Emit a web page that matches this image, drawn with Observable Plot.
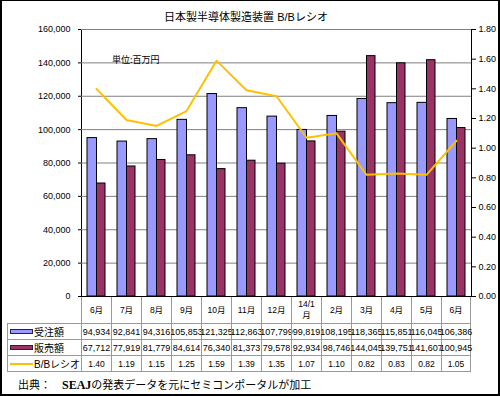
<!DOCTYPE html>
<html><head><meta charset="utf-8">
<script src="https://cdn.jsdelivr.net/npm/d3@7"></script>
<script src="https://cdn.jsdelivr.net/npm/@observablehq/plot@0.6"></script>
<style>
html,body{margin:0;padding:0;background:#fff;}
#wrap{position:relative;width:500px;height:396px;overflow:hidden;background:#fff;font-family:"Liberation Sans","Noto Sans CJK JP",sans-serif;color:#000;}
#frame{position:absolute;left:0;top:0;width:500px;height:396px;box-sizing:border-box;border-style:solid;border-color:#000;border-width:1px 2px 2px 2px;pointer-events:none;z-index:10;}
.abs{position:absolute;white-space:nowrap;}
.cell{position:absolute;box-sizing:border-box;border-left:1px solid #999;border-top:1px solid #999;display:flex;align-items:center;justify-content:center;white-space:nowrap;text-align:center;overflow:visible;}
#chart{position:absolute;left:0;top:0;z-index:2;}
</style></head>
<body><div id="wrap"><div id="frame"></div></div>
<script>
const title = "日本製半導体製造装置 B/Bレシオ";
const unitLabel = "単位:百万円";
const months = ["6月","7月","8月","9月","10月","11月","12月","14/1月","2月","3月","4月","5月","6月"];
const seriesNames = ["受注額","販売額","B/Bレシオ"];
const orders = [94934, 92841, 94316, 105853, 121325, 112863, 107799, 99819, 108195, 118365, 115851, 116045, 106386];
const sales  = [67712, 77919, 81779, 84614, 76340, 81373, 79578, 92934, 98746, 144045, 139751, 141607, 100945];
const bbRatio = [1.40, 1.19, 1.15, 1.25, 1.59, 1.39, 1.35, 1.07, 1.10, 0.82, 0.83, 0.82, 1.05];
const leftTicks = [0, 20000, 40000, 60000, 80000, 100000, 120000, 140000, 160000];
const rightTicks = [0, 0.2, 0.4, 0.6, 0.8, 1.0, 1.2, 1.4, 1.6, 1.8];
const captionLead = "出典：　";
const captionSource = "SEAJ";
const captionRest = "の発表データを元にセミコンポータルが加工";

const colors = {orders: "#9999FF", sales: "#993366", ratio: "#FFC000"};
const k = leftTicks[leftTicks.length - 1] / rightTicks[rightTicks.length - 1];
const idx = d3.range(months.length);
const fmt = d3.format(",");

const chart = Plot.plot({
  width: 500, height: 297,
  marginTop: 29, marginBottom: 1, marginLeft: 81, marginRight: 29,
  style: {fontFamily: '"Liberation Sans", Arial, sans-serif', fontSize: "9px", color: "#000", background: "transparent", overflow: "visible"},
  x: {type: "band", domain: idx, padding: 0, axis: null},
  y: {domain: [leftTicks[0], leftTicks[leftTicks.length - 1]]},
  marks: [
    Plot.frame({stroke: "#000"}),
    Plot.ruleY(leftTicks.slice(1), {stroke: "#808080", strokeOpacity: 1}),
    Plot.barY(orders, {x: (d, i) => i, y: d => d, fill: colors.orders, stroke: "#000", strokeWidth: 1, insetLeft: 6, insetRight: 14.5}),
    Plot.barY(sales, {x: (d, i) => i, y: d => d, fill: colors.sales, stroke: "#000", strokeWidth: 1, insetLeft: 15.5, insetRight: 6}),
    Plot.lineY(bbRatio, {x: (d, i) => i, y: d => d * k, stroke: colors.ratio, strokeWidth: 2}),
    Plot.axisY(leftTicks, {anchor: "left", tickSize: 3, tickPadding: 8, tickFormat: fmt, label: null}),
    Plot.axisY(rightTicks.map(r => r * k), {anchor: "right", tickSize: 4, tickPadding: 3, tickFormat: d => (d / k).toFixed(2), label: null})
  ]
});
chart.id = "chart";
const wrap = document.getElementById("wrap");
wrap.appendChild(chart);

function add(cls, styles, html) {
  const el = document.createElement("div");
  el.className = cls;
  Object.assign(el.style, styles);
  if (html != null) el.innerHTML = html;
  wrap.appendChild(el);
  return el;
}

// title & unit
add("abs", {left: "0px", top: "10px", width: "492px", textAlign: "center", fontSize: "11px", lineHeight: "14px", fontFamily: '"Liberation Sans","Noto Sans CJK JP",sans-serif'}, title);
add("abs", {left: "112px", top: "53px", fontSize: "9px", lineHeight: "14px", fontFamily: '"Noto Sans CJK JP",sans-serif', zIndex: 3}, unitLabel);

// data table aligned with the x scale
const xs = chart.scale("x");
const bw = (xs && xs.bandwidth) ? xs.bandwidth : 390 / months.length;
const colLeft = i => (xs && xs.apply) ? xs.apply(i) : 81 + i * bw;
const headerTop = 297, headerH = 26, rowH = 16;
const rowTops = [headerTop + headerH, headerTop + headerH + rowH, headerTop + headerH + 2 * rowH];
const labelLeft = 7;

months.forEach((m, i) => {
  const last = i === months.length - 1;
  const label = m.includes("/") ? m.slice(0, -1) + "<br>" + m.slice(-1) : m;
  add("cell", {left: colLeft(i) + "px", top: headerTop + "px", width: bw + "px", height: headerH + "px",
    borderTop: "none", borderRight: last ? "1px solid #999" : "none", fontSize: "8.5px", lineHeight: "11px",
    fontFamily: '"Liberation Sans","Noto Sans CJK JP",sans-serif'}, label);
});

const rows = [
  {name: seriesNames[0], values: orders.map(fmt), swatch: "box", color: colors.orders, size: "9px"},
  {name: seriesNames[1], values: sales.map(fmt), swatch: "box", color: colors.sales, size: "9px"},
  {name: seriesNames[2], values: bbRatio.map(v => v.toFixed(2)), swatch: "line", color: colors.ratio, size: "8.5px"}
];
rows.forEach((r, ri) => {
  const top = rowTops[ri];
  const lastRow = ri === rows.length - 1;
  const h = lastRow ? rowH + 1 : rowH;
  const lab = add("cell", {left: labelLeft + "px", top: top + "px", width: (colLeft(0) - labelLeft) + "px", height: h + "px",
    borderBottom: lastRow ? "1px solid #999" : "none", justifyContent: "flex-start", fontSize: "10px",
    fontFamily: '"Liberation Sans","Noto Sans CJK JP",sans-serif', paddingLeft: "26px"}, r.name);
  const sw = document.createElement("div");
  sw.style.position = "absolute";
  sw.style.left = "2px";
  sw.style.width = "23px";
  if (r.swatch === "box") {
    sw.style.top = "5px"; sw.style.height = "5px"; sw.style.boxSizing = "border-box";
    sw.style.background = r.color; sw.style.border = "1px solid #222244";
  } else {
    sw.style.top = "7px"; sw.style.height = "2px"; sw.style.background = r.color;
  }
  lab.appendChild(sw);
  r.values.forEach((v, i) => {
    const last = i === months.length - 1;
    add("cell", {left: colLeft(i) + "px", top: top + "px", width: bw + "px", height: h + "px",
      borderRight: last ? "1px solid #999" : "none", borderBottom: lastRow ? "1px solid #999" : "none",
      fontSize: r.size, fontFamily: '"Liberation Sans",Arial,sans-serif'}, v);
  });
});

// caption
add("abs", {left: "18px", top: "377px", fontSize: "11px", lineHeight: "15px", fontFamily: '"Noto Sans CJK JP",sans-serif'},
  captionLead + '<b style="font-family:\'Liberation Serif\',serif;font-size:12px">' + captionSource + '</b>' + captionRest);
</script>
</body></html>
